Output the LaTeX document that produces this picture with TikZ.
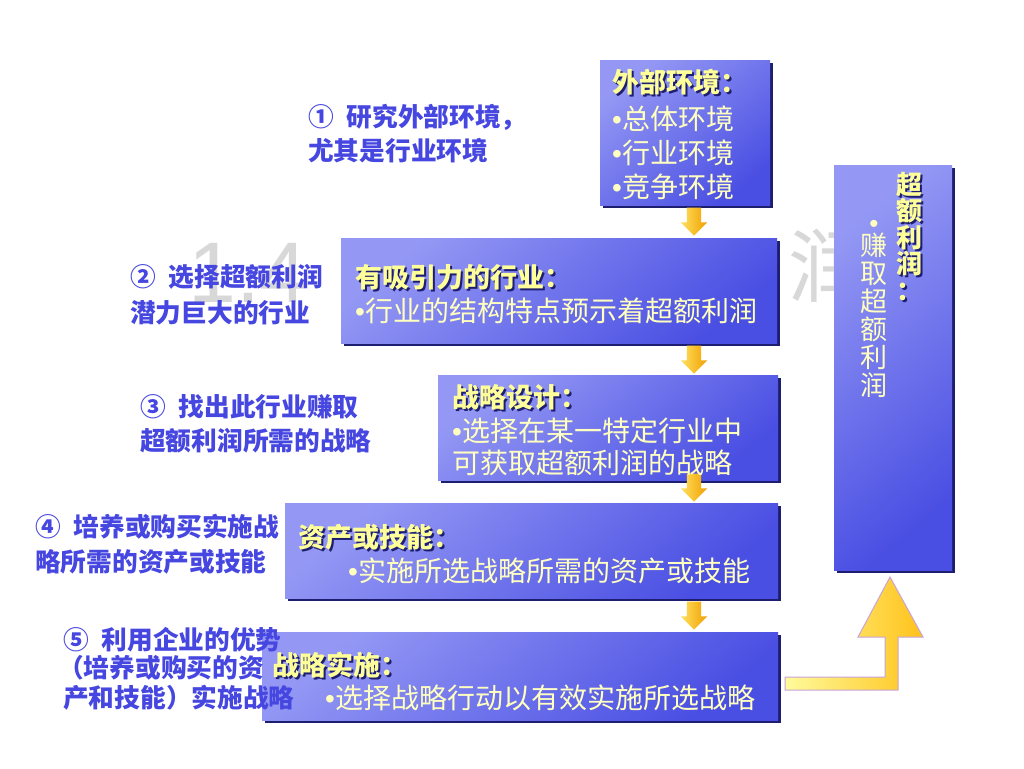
\documentclass[tikz,border=0pt]{standalone}
\usepackage{fontspec}
\setmainfont{Noto Sans CJK SC}
\newfontfamily\latf{Liberation Sans}
\usetikzlibrary{shapes.arrows,shadows}
\definecolor{lbl}{HTML}{4646E0}
\definecolor{boxA}{HTML}{9498F4}
\definecolor{boxB}{HTML}{4A4FE3}
\definecolor{shd}{HTML}{1E1E70}
\definecolor{ttl}{HTML}{FFFF99}
\definecolor{bod}{HTML}{FFFFC0}
\definecolor{wm}{HTML}{D8D8D8}
\definecolor{arrA}{HTML}{FFE060}
\definecolor{arrB}{HTML}{F0A000}
\definecolor{bigA}{HTML}{FFFB9C}
\definecolor{bigB}{HTML}{FFC21A}
\definecolor{bigE}{HTML}{C9A3D9}
\newcommand\bul{{\latf •}}
\newcommand\gapsp{\hspace{0.5em}}
\newcommand\boxtitle[4]{%
  \node[ttlsh] (#1s) at (#2+2,#3+2) {#4};
  \node[ttlt] (#1) at (#2,#3) {#4};}
\tikzset{
  box/.style={rectangle, inner sep=0pt, draw=none, top color=boxA, bottom color=boxB,
    shading angle=40, drop shadow={shadow xshift=3pt, shadow yshift=-3pt, fill=shd, opacity=1}},
  lbltxt/.style={anchor=base west, inner sep=0pt, text=lbl, font=\fontsize{25.7}{29}\selectfont\bfseries},
  ttlt/.style={anchor=base west, inner sep=0pt, text=ttl, font=\fontsize{27}{30}\selectfont\bfseries},
  ttlsh/.style={ttlt, text=shd},
  bodtxt/.style={anchor=base west, inner sep=0pt, text=bod, font=\fontsize{28}{32}\selectfont},
  downarr/.style={single arrow, shape border rotate=270, minimum height=28pt, minimum width=26pt,
    inner sep=7pt, single arrow head extend=6pt, draw=none, left color=arrA, right color=arrB},
  bigarr/.style={draw=bigE, line width=1pt, left color=bigA, right color=bigB},
  wmtxt/.style={inner sep=0pt, text=wm}
}
\begin{document}
\begin{tikzpicture}[x=1pt,y=-1pt]
\path[use as bounding box, fill=white] (0,0) rectangle (1024,768);

% faint background title
\node[wmtxt, anchor=base west, font=\latf\fontsize{86}{90}\selectfont] (wm1) at (188,302) {1.4};
\node[wmtxt, anchor=base west, font=\fontsize{80}{84}\selectfont] (wm2) at (788,296) {润};

% boxes
\node[box, minimum width=170pt, minimum height=145pt] (b1) at (685,132.5) {};
\node[box, minimum width=436pt, minimum height=105pt] (b2) at (559,290.5) {};
\node[box, minimum width=340pt, minimum height=105pt] (b3) at (608,427.5) {};
\node[box, minimum width=493pt, minimum height=95pt] (b4) at (531.5,550.5) {};
\node[box, minimum width=516pt, minimum height=88pt] (b5) at (520,676) {};
\node[box, minimum width=118pt, minimum height=405pt] (rb) at (893,367.5) {};

% down arrows between boxes
\node[downarr] (a1) at (694,218) {};
\node[downarr] (a2) at (694,356) {};
\node[downarr] (a3) at (694,484) {};
\node[downarr] (a4) at (694,612) {};

% big L arrow from strategy implementation to above-average returns
\coordinate (lstart) at (785,683.5);
\path[bigarr] (785,677) -- (885,677) -- (885,637) -- (858,637) -- (890,577)
  -- (923,637) -- (898,637) -- (898,690) -- (785,690) -- cycle;

% box 1
\boxtitle{t1}{612}{92}{外部环境：}
\node[bodtxt] (l1a) at (612,129) {\bul 总体环境};
\node[bodtxt] (l1b) at (612,163) {\bul 行业环境};
\node[bodtxt] (l1c) at (612,197) {\bul 竞争环境};

% box 2
\boxtitle{t2}{355}{287}{有吸引力的行业：}
\node[bodtxt] (l2a) at (355,321) {\bul 行业的结构特点预示着超额利润};

% box 3
\boxtitle{t3}{452}{407}{战略设计：}
\node[bodtxt] (l3a) at (452,441) {\bul 选择在某一特定行业中};
\node[bodtxt] (l3b) at (452,473) {可获取超额利润的战略};

% box 4
\boxtitle{t4}{298}{547}{资产或技能：}
\node[bodtxt] (l4a) at (348,581) {\bul 实施所选战略所需的资产或技能};

% box 5
\boxtitle{t5}{272}{675}{战略实施：}
\node[bodtxt] (l5a) at (325,708) {\bul 选择战略行动以有效实施所选战略};

% right box vertical text
\node[ttlsh, anchor=north, align=center, font=\fontsize{26}{26.5}\selectfont\bfseries] (rts) at (911,174) {超\\额\\利\\润\\：};
\node[ttlt, anchor=north, align=center, font=\fontsize{26}{26.5}\selectfont\bfseries] (rt) at (909,172) {超\\额\\利\\润\\：};
\node[bodtxt, anchor=center, font=\latf\fontsize{26}{26}\selectfont] (rbul) at (874,226) {•};
\node[bodtxt, anchor=north, align=center, font=\fontsize{27}{28}\selectfont] (rl) at (874,233) {赚\\取\\超\\额\\利\\润};

% left step labels
\node[lbltxt] (s1a) at (308,126) {①\gapsp 研究外部环境，};
\node[lbltxt] (s1b) at (308,160) {尤其是行业环境};
\node[lbltxt] (s2a) at (130,286) {②\gapsp 选择超额利润};
\node[lbltxt] (s2b) at (130,322) {潜力巨大的行业};
\node[lbltxt] (s3a) at (140,416) {③\gapsp 找出此行业赚取};
\node[lbltxt] (s3b) at (140,450) {超额利润所需的战略};
\node[lbltxt] (s4a) at (35,536) {④\gapsp 培养或购买实施战};
\node[lbltxt] (s4b) at (35,571) {略所需的资产或技能};
\node[lbltxt] (s5a) at (63,649) {⑤\gapsp 利用企业的优势};
\node[lbltxt] (s5b) at (58,677) {（培养或购买的资};
\node[lbltxt] (s5c) at (63,707) {产和技能）实施战略};
\end{tikzpicture}
\end{document}
